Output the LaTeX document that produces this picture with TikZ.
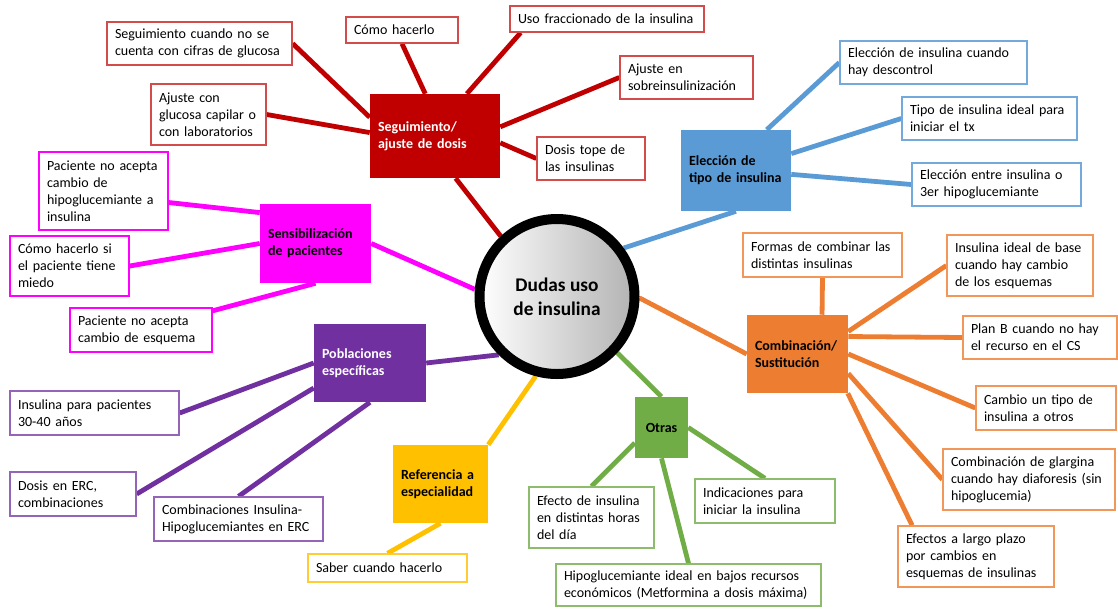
\documentclass[tikz,border=0pt]{standalone}
\usepackage{fontspec}
\setmainfont{Carlito}
\usepackage{tikz}
\usetikzlibrary{backgrounds}

\definecolor{segred}{HTML}{C00000}
\definecolor{tipoblue}{HTML}{5B9BD5}
\definecolor{sensmag}{HTML}{FF00FF}
\definecolor{poblpur}{HTML}{7030A0}
\definecolor{refyel}{HTML}{FFC000}
\definecolor{otrgreen}{HTML}{70AD47}
\definecolor{combor}{HTML}{ED7D31}

\begin{document}
\begin{tikzpicture}[x=0.75pt, y=-0.75pt,
    font=\fontsize{10.5}{12.8}\selectfont,
    leaf/.style={draw=#1, line width=1pt, fill=white, rectangle, align=left, inner xsep=6pt, inner ysep=2pt},
    hub/.style={fill=#1, rectangle, align=left, inner xsep=6pt, font=\fontsize{10.5}{12.8}\selectfont\bfseries},
    link/.style={draw=#1, line width=3.6pt}]
    \useasboundingbox (0, 0) rectangle (1118, 608);

    % centro
    \node[circle, draw=black, line width=7.5pt, minimum size=116.25pt, left color=white, right color=black!30,
        align=center, font=\fontsize{14.5}{18}\selectfont\bfseries] (dudas) at (557, 296.5) {Dudas uso\\de insulina};

    % seguimiento
    \node[hub=segred, text=white, text width=85.5pt, minimum height=63pt] (seg) at (435, 136) {Seguimiento/\\ajuste de dosis};
    \node[leaf=segred!70, text width=126.75pt, minimum height=32.25pt] (r1) at (199.5, 43.5) {Seguimiento cuando no se\\cuenta con cifras de glucosa};
    \node[leaf=segred!70, text width=72pt, minimum height=19.5pt] (r2) at (402, 30) {Cómo hacerlo};
    \node[leaf=segred!70, text width=74.25pt, minimum height=45.75pt] (r3) at (208.5, 114.5) {Ajuste con\\glucosa capilar o\\con laboratorios};
    \node[leaf=segred!70, text width=133.5pt, minimum height=19.5pt] (r4) at (607, 19) {Uso fraccionado de la insulina};
    \node[leaf=segred!70, text width=87.75pt, minimum height=32.25pt] (r5) at (686.5, 77.5) {Ajuste en\\sobreinsulinización};
    \node[leaf=segred!70, text width=69pt, minimum height=32.25pt] (r6) at (591, 158.5) {Dosis tope de\\las insulinas};

    % eleccion
    \node[hub=tipoblue, text width=70.5pt, minimum height=60.75pt] (tipo) at (736, 170.5) {Elección de\\tipo de insulina};
    \node[leaf=tipoblue!85, text width=128.25pt, minimum height=32.25pt] (b1) at (933.5, 62.5) {Elección de insulina cuando\\hay descontrol};
    \node[leaf=tipoblue!85, text width=119.25pt, minimum height=32.25pt] (b2) at (989.5, 118.5) {Tipo de insulina ideal para\\iniciar el tx};
    \node[leaf=tipoblue!85, text width=114.75pt, minimum height=32.25pt] (b3) at (996.5, 184.5) {Elección entre insulina o\\3er hipoglucemiante};

    % sensibilizacion
    \node[hub=sensmag, text width=71.25pt, minimum height=59.25pt] (sens) at (315.5, 243.5) {Sensibilización\\de pacientes};
    \node[leaf=sensmag, text width=84.75pt, minimum height=58.5pt] (p1) at (103.5, 191) {Paciente no acepta\\cambio de\\hipoglucemiante a\\insulina};
    \node[leaf=sensmag, text width=77.25pt, minimum height=45pt] (p2) at (69.5, 266) {Cómo hacerlo si\\el paciente tiene\\miedo};
    \node[leaf=sensmag, text width=94.5pt, minimum height=33pt] (p3) at (141, 330) {Paciente no acepta\\cambio de esquema};

    % poblaciones
    \node[hub=poblpur, text=white, text width=72pt, minimum height=58.5pt] (pobl) at (370, 363) {Poblaciones\\específicas};
    \node[leaf=poblpur!75, text width=114.75pt, minimum height=33pt] (u1) at (94.5, 413) {Insulina para pacientes\\30-40 años};
    \node[leaf=poblpur!75, text width=82.5pt, minimum height=33pt] (u2) at (73, 494) {Dosis en ERC,\\combinaciones};
    \node[leaf=poblpur!75, text width=114.75pt, minimum height=33pt] (u3) at (238.5, 519) {Combinaciones Insulina-\\Hipoglucemiantes en ERC};

    % referencia
    \node[hub=refyel, text width=59.25pt, minimum height=58.5pt] (ref) at (440.5, 484) {Referencia a\\especialidad};
    \node[leaf=refyel!80, text width=107.25pt, minimum height=21pt] (y1) at (387.5, 568) {Saber cuando hacerlo};

    % otras
    \node[hub=otrgreen, align=center, text width=27.75pt, minimum height=45.75pt] (otras) at (661.5, 427.5) {Otras};
    \node[leaf=otrgreen!80, text width=81.75pt, minimum height=45.75pt] (g1) at (591.5, 517.5) {Efecto de insulina\\en distintas horas\\del día};
    \node[leaf=otrgreen!80, text width=93pt, minimum height=33pt] (g2) at (765, 501) {Indicaciones para\\iniciar la insulina};
    \node[leaf=otrgreen!80, text width=186.75pt, minimum height=31.5pt] (g3) at (688.5, 585) {Hipoglucemiante ideal en bajos recursos\\económicos (Metformina a dosis máxima)};

    % combinacion
    \node[hub=combor, text width=63.75pt, minimum height=58.5pt] (comb) at (797.5, 354) {Combinación/\\Sustitución};
    \node[leaf=combor!80, text width=107.25pt, minimum height=33pt] (o1) at (822.5, 255) {Formas de combinar las\\distintas insulinas};
    \node[leaf=combor!80, text width=97.5pt, minimum height=45.75pt] (o2) at (1020, 265.5) {Insulina ideal de base\\cuando hay cambio\\de los esquemas};
    \node[leaf=combor!80, text width=103.5pt, minimum height=32.25pt] (o3) at (1040, 337.5) {Plan B cuando no hay\\el recurso en el CS};
    \node[leaf=combor!80, text width=93pt, minimum height=33pt] (o4) at (1046, 408) {Cambio un tipo de\\insulina a otros};
    \node[leaf=combor!80, text width=117pt, minimum height=45.75pt] (o5) at (1029, 479.5) {Combinación de glargina\\cuando hay diaforesis (sin\\hipoglucemia)};
    \node[leaf=combor!80, text width=105pt, minimum height=45.75pt] (o6) at (976, 556.5) {Efectos a largo plazo\\por cambios en\\esquemas de insulinas};

    \begin{pgfonlayer}{background}
        \draw[link=segred] (seg.-64) -- (dudas.133);
        \draw[link=segred] (seg.164) -- (r1.east);
        \draw[link=segred] (seg.103) -- (r2.south);
        \draw[link=segred] (seg.177) -- (r3.east);
        \draw[link=segred] (seg.53) -- (r4.-171);
        \draw[link=segred] (seg.8) -- (r5.west);
        \draw[link=segred] (seg.-6) -- (r6.west);

        \draw[link=tipoblue] (tipo.south) -- (dudas.36);
        \draw[link=tipoblue] (tipo.53) -- (b1.west);
        \draw[link=tipoblue] (tipo.17) -- (b2.west);
        \draw[link=tipoblue] (tipo.-4) -- (b3.west);

        \draw[link=sensmag] (sens.east) -- (dudas.175);
        \draw[link=sensmag] (sens.151) -- (p1.-10);
        \draw[link=sensmag] (sens.west) -- (p2.east);
        \draw[link=sensmag] (sens.south) -- (p3.15);

        \draw[link=poblpur] (pobl.east) -- (dudas.225);
        \draw[link=poblpur] (pobl.west) -- (u1.east);
        \draw[link=poblpur] (pobl.-156) -- (u2.east);
        \draw[link=poblpur] (pobl.south) -- (u3.north);

        \draw[link=refyel] (ref.north east) -- (dudas.255);
        \draw[link=refyel] (ref.south) -- (y1.north);

        \draw[link=otrgreen] (otras.north) -- (dudas.-43);
        \draw[link=otrgreen] (otras.-150) -- (g1.north);
        \draw[link=otrgreen] (otras.east) -- (g2.north);
        \draw[link=otrgreen] (otras.south) -- (g3.north);

        \draw[link=combor] (comb.west) -- (dudas.-1);
        \draw[link=combor] (comb.58) -- (o1.south);
        \draw[link=combor] (comb.24) -- (o2.west);
        \draw[link=combor] (comb.19) -- (o3.west);
        \draw[link=combor] (comb.east) -- (o4.west);
        \draw[link=combor] (comb.-21) -- (o5.west);
        \draw[link=combor] (comb.-38) -- (o6.154);
    \end{pgfonlayer}
\end{tikzpicture}
\end{document}
